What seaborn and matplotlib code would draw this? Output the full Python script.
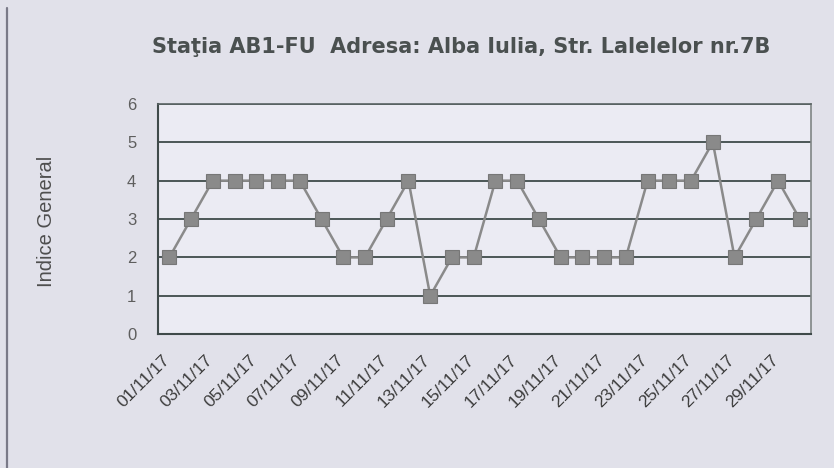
import numpy as np
import pandas as pd
import seaborn as sns
import matplotlib.pyplot as plt
from matplotlib.lines import Line2D

# Daily values for November 2017
days = [f"{d:02d}/11/17" for d in range(1, 31)]
indice = [2, 3, 4, 4, 4, 4, 4, 3, 2, 2, 3, 4, 1, 2, 2,
          4, 4, 3, 2, 2, 2, 2, 4, 4, 4, 5, 2, 3, 4, 3]
y_ticks = [0, 1, 2, 3, 4, 5, 6]
title = "Staţia AB1-FU  Adresa: Alba Iulia, Str. Lalelelor nr.7B"

df = pd.DataFrame({"zi": days, "indice": indice})
df["pos"] = np.arange(len(df))

sns.set_style("white")
plt.rcParams["font.family"] = ["Liberation Sans", "DejaVu Sans"]

bg = "#e1e1ea"
fig = plt.figure(figsize=(8.34, 4.68), dpi=100, facecolor=bg)
ax = fig.add_axes([0.19, 0.286, 0.782, 0.492])
ax.set_facecolor("#ebebf3")

# horizontal gridlines
for v in y_ticks[1:]:
    ax.axhline(v, color="#4b5656", lw=1.4, zorder=1)

sns.lineplot(data=df, x="pos", y="indice", ax=ax, color="#8a8a8a", lw=1.8,
             marker="s", markersize=10, markerfacecolor="#8a8a8a",
             markeredgecolor="#777777", markeredgewidth=0.8, zorder=3)

ax.set_xlim(-0.5, len(days) - 0.5)
ax.set_ylim(0, 6)
ax.set_yticks(y_ticks)
ax.set_yticklabels([str(v) for v in y_ticks], color="#5e5e5e", fontsize=12)

# category ticks between every two days, labels on every other day
# (labels sit a little left of their point, like the excel original)
ax.set_xticks(np.arange(-0.5, len(days), 2))
ax.set_xticklabels([])
ax.set_xticks(df["pos"][::2] - 0.35, minor=True)
ax.set_xticklabels(df["zi"][::2], minor=True, rotation=45, ha="right",
                   rotation_mode="anchor", color="#3c3c3c", fontsize=12.5)
ax.tick_params(axis="x", which="major", direction="out", length=6,
               width=1.2, color="#3f4a4a")
ax.tick_params(axis="x", which="minor", length=0, pad=13)
ax.tick_params(axis="y", direction="out", length=6, width=1.2,
               color="#3f4a4a", pad=10)

for s in ["left", "bottom"]:
    ax.spines[s].set_color("#3f4a4a")
    ax.spines[s].set_linewidth(1.5)
ax.spines["right"].set_color("#7f8585")
ax.spines["right"].set_linewidth(1.2)
ax.spines["top"].set_color("#5a6464")
ax.spines["top"].set_linewidth(1.2)

ax.set_xlabel("")
ax.set_ylabel("")
fig.text(46 / 834, 1 - 221 / 468, "Indice General", rotation=90,
         ha="center", va="center", color="#4e4e4e", fontsize=14.5)

fig.text(461 / 834, 1 - 53 / 468, title, ha="center", va="baseline",
         fontsize=15, color="#4a5050", fontweight="bold",
         family=["DejaVu Sans"])

# outer frame of the scanned chart
fig.add_artist(Line2D([0.0085, 0.0085], [0.0, 0.983], color="#7a7a88", lw=1.6))

fig.savefig("out.png", dpi=100, facecolor=bg)
